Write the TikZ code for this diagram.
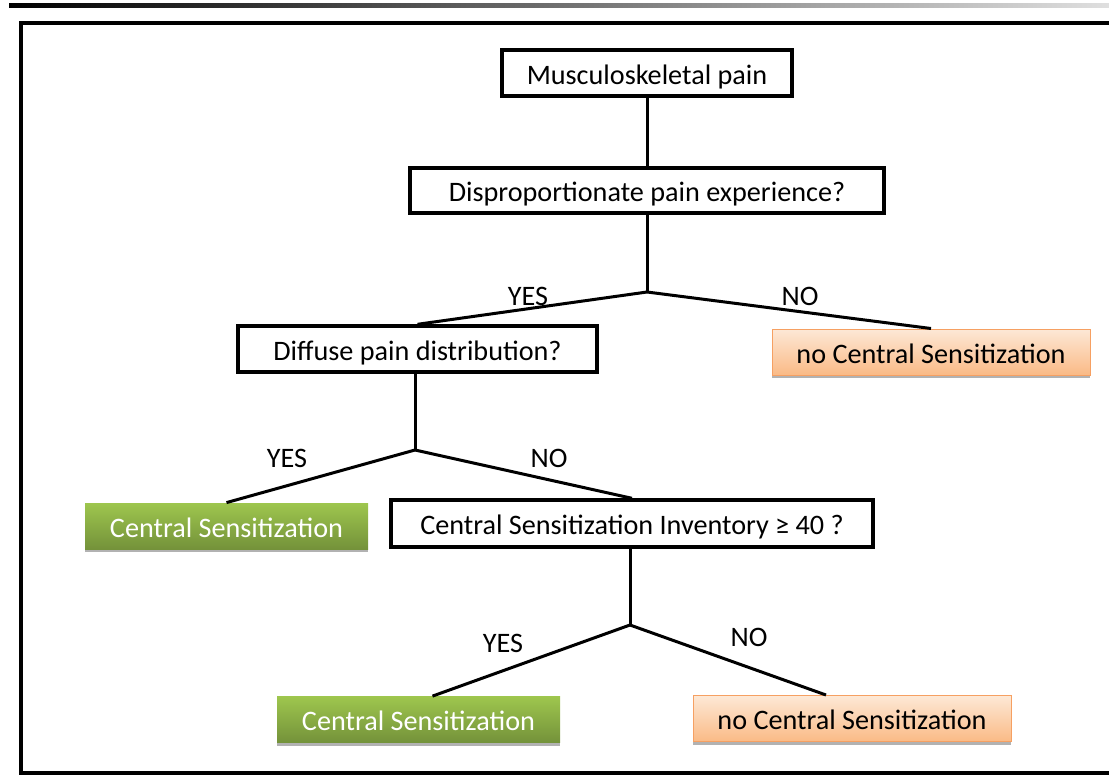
\documentclass[tikz,border=0pt]{standalone}
\usepackage{fontspec}
\setmainfont{Carlito}
\usepackage{xcolor}
\usetikzlibrary{shadows}

\definecolor{csgreentop}{RGB}{158,198,78}
\definecolor{csgreenbot}{RGB}{116,146,58}
\definecolor{peachtop}{RGB}{253,232,214}
\definecolor{peachbot}{RGB}{250,186,134}
\definecolor{peachline}{RGB}{246,160,98}

\begin{document}
\begin{tikzpicture}[x=0.5pt, y=-0.5pt,
    qbox/.style={rectangle, draw=black, line width=1.7pt, fill=white,
                 inner sep=0pt, text height=11pt, text depth=0pt,
                 font=\fontsize{14.1}{16}\selectfont},
    csyes/.style={rectangle, draw=none, top color=csgreentop, bottom color=csgreenbot,
                  text=white, inner sep=0pt, minimum width=141.5pt, minimum height=23pt,
                  text height=11pt, text depth=0pt, font=\fontsize{14.1}{16}\selectfont,
                  drop shadow={shadow xshift=0pt, shadow yshift=-1.5pt, fill=gray!60, opacity=1}},
    csno/.style={rectangle, draw=peachline, line width=0.5pt, top color=peachtop, bottom color=peachbot,
                 inner sep=0pt, minimum width=159pt, minimum height=23pt,
                 text height=11pt, text depth=0pt, font=\fontsize{14.1}{16}\selectfont,
                 drop shadow={shadow xshift=0pt, shadow yshift=-1.5pt, fill=gray!60, opacity=1}},
    lnk/.style={line width=1.5pt},
    lbl/.style={font=\fontsize{14.1}{16}\selectfont}
]
\useasboundingbox (0,0) rectangle (1109,776);

\shade[left color=black, right color=gray!25] (9,3) rectangle (1109,7);
\draw[line width=1.6pt] (1112,23) -- (21,23) -- (21,773) -- (1112,773);

\node[qbox, minimum width=145pt, minimum height=23pt] (msk) at (647,73) {Musculoskeletal pain};
\node[qbox, minimum width=237pt, minimum height=22.5pt] (dispro) at (647,190.5) {Disproportionate pain experience?};
\node[qbox, minimum width=179.5pt, minimum height=23pt] (diffuse) at (417.5,349) {Diffuse pain distribution?};
\node[csno] (nocs1) at (931,352) {no Central Sensitization};
\node[csyes] (cs1) at (226.5,526) {Central Sensitization};
\node[qbox, minimum width=241pt, minimum height=23.5pt] (csi) at (632,523.5) {Central Sensitization Inventory ≥ 40 ?};
\node[csyes] (cs2) at (418.5,719.5) {Central Sensitization};
\node[csno] (nocs2) at (852,718.5) {no Central Sensitization};

\coordinate (j1) at (647,292);
\coordinate (j2) at (415,450);
\coordinate (j3) at (630,625);

\draw[lnk] (msk) -- (dispro);
\draw[lnk] (dispro.south) -- (j1);
\draw[lnk] (j1) -- (diffuse.north);
\draw[lnk] (j1) -- (nocs1.north);
\draw[lnk] (diffuse.south -| j2) -- (j2);
\draw[lnk] (j2) -- (cs1.north);
\draw[lnk] (j2) -- (csi.north);
\draw[lnk] (csi.south -| j3) -- (j3);
\draw[lnk] (j3) -- ([xshift=7pt]cs2.north);
\draw[lnk] (j3) -- ([xshift=-13pt]nocs2.north);

\node[lbl] (yes1) at (528,296) {YES};
\node[lbl] (no1) at (800,296) {NO};
\node[lbl] (yes2) at (287,458) {YES};
\node[lbl] (no2) at (549,458) {NO};
\node[lbl] (yes3) at (503,643) {YES};
\node[lbl] (no3) at (749,637) {NO};

\end{tikzpicture}
\end{document}
